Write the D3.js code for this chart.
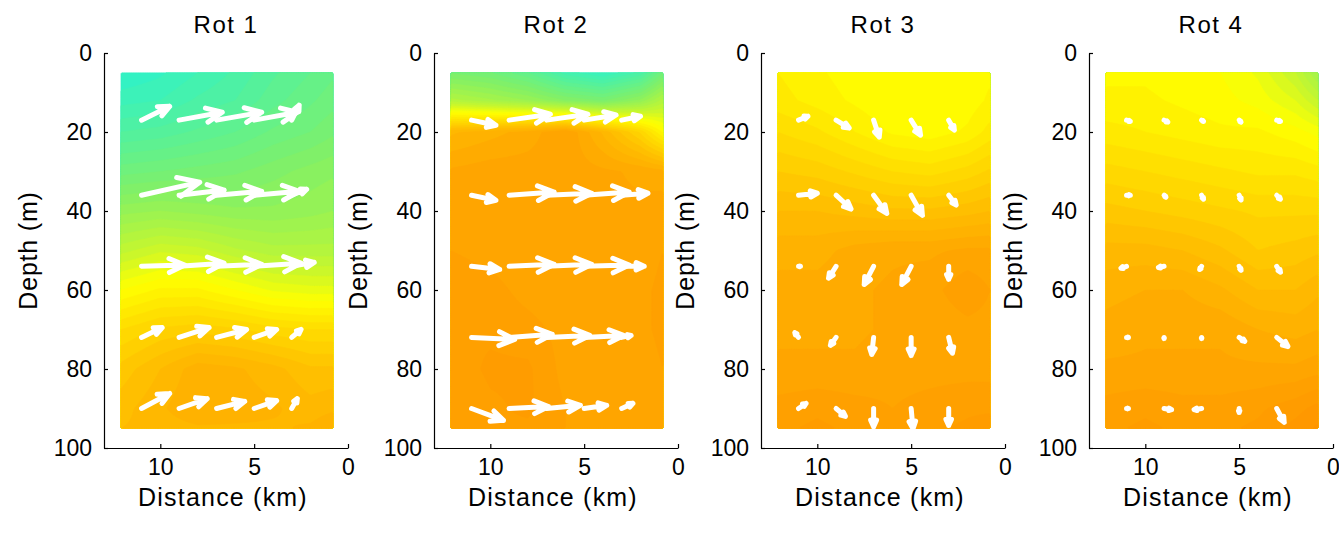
<!DOCTYPE html>
<html>
<head>
<meta charset="utf-8">
<script src="https://cdn.jsdelivr.net/npm/d3@7"></script>
<style>
  body { margin: 0; background: #fff; }
  svg text { font-family: "Liberation Sans", Arial, sans-serif; fill: #000; }
</style>
</head>
<body>
<div id="chart"></div>
<script>
// grid of the coloured field (distance in km, depth in m)
const distCols = [12.1, 10, 8, 6, 4, 2, 0.8];
const depthRows = [5, 12, 20, 30, 40, 50, 60, 70, 80, 90, 95];

// field values, 0 = cyan ... 0.5 = yellow ... 1 = deep orange
const field1 = [
  [0.00, 0.02, 0.05, 0.08, 0.12, 0.15, 0.17],
  [0.04, 0.05, 0.08, 0.10, 0.14, 0.17, 0.19],
  [0.10, 0.11, 0.13, 0.15, 0.18, 0.20, 0.22],
  [0.19, 0.20, 0.21, 0.22, 0.24, 0.26, 0.27],
  [0.29, 0.30, 0.29, 0.28, 0.28, 0.29, 0.30],
  [0.39, 0.42, 0.41, 0.38, 0.36, 0.36, 0.36],
  [0.50, 0.53, 0.53, 0.50, 0.47, 0.46, 0.46],
  [0.60, 0.63, 0.64, 0.63, 0.61, 0.60, 0.60],
  [0.66, 0.70, 0.74, 0.73, 0.71, 0.68, 0.68],
  [0.69, 0.72, 0.75, 0.74, 0.73, 0.71, 0.72],
  [0.70, 0.71, 0.72, 0.72, 0.72, 0.73, 0.75]
];
const field2 = [
  [0.22, 0.20, 0.15, 0.06, 0.02, 0.08, 0.20],
  [0.36, 0.33, 0.30, 0.25, 0.22, 0.28, 0.36],
  [0.72, 0.74, 0.76, 0.80, 0.72, 0.62, 0.52],
  [0.78, 0.79, 0.79, 0.79, 0.78, 0.77, 0.76],
  [0.79, 0.79, 0.78, 0.78, 0.78, 0.78, 0.79],
  [0.80, 0.79, 0.78, 0.78, 0.78, 0.78, 0.80],
  [0.82, 0.81, 0.79, 0.78, 0.78, 0.79, 0.81],
  [0.82, 0.82, 0.81, 0.79, 0.78, 0.79, 0.81],
  [0.81, 0.83, 0.83, 0.79, 0.78, 0.78, 0.80],
  [0.80, 0.82, 0.83, 0.80, 0.79, 0.79, 0.80],
  [0.80, 0.82, 0.82, 0.80, 0.79, 0.79, 0.80]
];
const field3 = [
  [0.55, 0.53, 0.51, 0.50, 0.50, 0.51, 0.52],
  [0.56, 0.54, 0.52, 0.50, 0.50, 0.51, 0.53],
  [0.60, 0.58, 0.55, 0.52, 0.51, 0.53, 0.56],
  [0.65, 0.64, 0.62, 0.60, 0.59, 0.61, 0.63],
  [0.70, 0.70, 0.69, 0.68, 0.68, 0.69, 0.70],
  [0.74, 0.74, 0.76, 0.77, 0.77, 0.78, 0.78],
  [0.76, 0.76, 0.77, 0.78, 0.79, 0.82, 0.80],
  [0.77, 0.77, 0.77, 0.78, 0.78, 0.79, 0.79],
  [0.78, 0.78, 0.78, 0.79, 0.79, 0.79, 0.79],
  [0.81, 0.82, 0.81, 0.80, 0.81, 0.82, 0.82],
  [0.82, 0.83, 0.82, 0.81, 0.82, 0.83, 0.84]
];
const field4 = [
  [0.52, 0.52, 0.51, 0.50, 0.47, 0.40, 0.32],
  [0.53, 0.53, 0.52, 0.51, 0.49, 0.45, 0.40],
  [0.56, 0.55, 0.54, 0.53, 0.53, 0.51, 0.49],
  [0.61, 0.60, 0.59, 0.58, 0.57, 0.57, 0.56],
  [0.66, 0.65, 0.64, 0.63, 0.62, 0.62, 0.62],
  [0.71, 0.71, 0.70, 0.68, 0.65, 0.66, 0.67],
  [0.74, 0.75, 0.75, 0.73, 0.70, 0.70, 0.72],
  [0.76, 0.77, 0.77, 0.77, 0.75, 0.74, 0.75],
  [0.78, 0.78, 0.78, 0.78, 0.78, 0.78, 0.79],
  [0.81, 0.82, 0.81, 0.81, 0.82, 0.84, 0.86],
  [0.82, 0.83, 0.82, 0.82, 0.83, 0.86, 0.88]
];

// arrow origins
const arrowDist = [11, 9, 7, 5, 3];
const arrowDepth = [17, 36, 54, 72, 90];

// arrow components: u = km toward 0 km, w = m downward (rows = depths, cols = distances)
const arrowU1 = [
  [1.5, 2.3, 2.4, 2.3, 0.4],
  [3.1, 2.4, 2.4, 2.4, 0.8],
  [2.3, 2.4, 2.4, 2.5, 1.2],
  [1.1, 1.6, 1.6, 1.2, 0.5],
  [1.5, 1.5, 1.5, 1.2, 0.3]
];
const arrowW1 = [
  [-3.5, -2.0, -2.0, -2.0, -3.8],
  [-3.3, -1.3, -1.0, -1.0, -1.5],
  [-0.3, -0.8, -0.5, -0.8, -1.0],
  [-2.5, -2.5, -2.0, -2.0, -2.0],
  [-3.8, -2.5, -1.8, -2.0, -2.5]
];
const arrowU2 = [
  [1.3, 2.2, 2.2, 1.7, 1.0],
  [1.3, 2.4, 2.4, 2.4, 1.4],
  [1.5, 2.4, 2.4, 2.4, 1.2],
  [2.3, 2.3, 2.3, 2.1, 0.5],
  [1.7, 2.1, 1.8, 1.2, 0.6]
];
const arrowW2 = [
  [1.3, -1.5, -1.5, -1.3, -1.0],
  [1.3, -0.8, -0.5, -0.8, -0.5],
  [0.8, -0.5, -0.5, -0.3, 0.0],
  [0.5, -0.8, -0.5, -0.5, -0.5],
  [3.0, -0.5, -0.8, -0.8, -1.3]
];
const arrowU3 = [
  [0.5, 0.7, 0.3, 0.5, 0.3],
  [1.0, 0.8, 0.7, 0.6, 0.4],
  [0.1, -0.4, -0.5, -0.5, 0.0],
  [-0.2, -0.3, -0.1, 0.0, 0.2],
  [0.4, 0.5, 0.0, 0.1, 0.0]
];
const arrowW3 = [
  [-1.0, 2.0, 4.3, 3.8, 2.5],
  [-0.5, 3.5, 4.6, 5.1, 2.5],
  [0.0, 3.0, 4.6, 4.6, 3.3],
  [-1.2, 2.0, 4.3, 4.6, 4.0],
  [-1.3, 2.0, 4.6, 5.1, 4.3]
];
const arrowU4 = [
  [0.2, 0.2, 0.1, 0.1, 0.2],
  [0.2, 0.1, 0.1, 0.1, 0.2],
  [-0.3, -0.3, -0.1, 0.1, 0.2],
  [0.1, 0.0, 0.0, 0.3, 0.6],
  [0.1, 0.4, -0.4, 0.0, 0.4]
];
const arrowW4 = [
  [0.3, 0.5, 0.3, 0.5, 0.3],
  [0.0, 0.5, 1.0, 1.2, 1.0],
  [0.5, 0.3, 0.8, 1.0, 1.5],
  [0.0, 0.3, 0.3, 1.0, 2.3],
  [0.0, 0.3, 0.3, 1.0, 3.5]
];

const titles = ["Rot 1", "Rot 2", "Rot 3", "Rot 4"];
const fields = [field1, field2, field3, field4];
const arrowsU = [arrowU1, arrowU2, arrowU3, arrowU4];
const arrowsW = [arrowW1, arrowW2, arrowW3, arrowW4];
const depthTicks = [0, 20, 40, 60, 80, 100];
const distTicks = [10, 5, 0];

const W = 1339, H = 540;
const panelLeft = [104, 434, 761, 1089];
const panelWidth = 244;
const plotTop = 53, plotBottom = 448;

const svg = d3.select("#chart").append("svg")
  .attr("width", W).attr("height", H);

const color = d3.scaleLinear()
  .domain([0, 0.25, 0.4, 0.5, 0.6, 0.7, 0.8, 0.9, 1])
  .range(["#2ff2c8", "#84f064", "#c4f630", "#ffff00", "#ffdc00", "#ffbb00", "#ffa200", "#ff9200", "#ff8600"])
  .clamp(true);

const y = d3.scaleLinear().domain([0, 100]).range([plotTop, plotBottom]);

// bilinear lookup in the coarse grid
function sample(grid, d, z) {
  let i = 0;
  while (i < distCols.length - 2 && d < distCols[i + 1]) i++;
  let j = 0;
  while (j < depthRows.length - 2 && z > depthRows[j + 1]) j++;
  const tx = Math.max(0, Math.min(1, (distCols[i] - d) / (distCols[i] - distCols[i + 1])));
  const ty = Math.max(0, Math.min(1, (z - depthRows[j]) / (depthRows[j + 1] - depthRows[j])));
  const a = grid[j][i] * (1 - tx) + grid[j][i + 1] * tx;
  const b = grid[j + 1][i] * (1 - tx) + grid[j + 1][i + 1] * tx;
  return a * (1 - ty) + b * ty;
}

const nx = 120, ny = 200;
const dMax = distCols[0], dMin = distCols[distCols.length - 1];
const zMin = depthRows[0], zMax = depthRows[depthRows.length - 1];
const thresholds = d3.range(0, 1, 0.025);

fields.forEach((grid, p) => {
  const x = d3.scaleLinear().domain([13, 0]).range([panelLeft[p], panelLeft[p] + panelWidth]);
  const g = svg.append("g");

  // coloured field
  const values = new Array(nx * ny);
  for (let j = 0; j < ny; j++) {
    for (let i = 0; i < nx; i++) {
      const d = dMax - (i + 0.5) / nx * (dMax - dMin);
      const z = zMin + (j + 0.5) / ny * (zMax - zMin);
      values[j * nx + i] = sample(grid, d, z);
    }
  }
  const contours = d3.contours().size([nx, ny]).thresholds(thresholds)(values);
  const proj = d3.geoTransform({
    point: function(gx, gy) {
      this.stream.point(x(dMax - gx / nx * (dMax - dMin)), y(zMin + gy / ny * (zMax - zMin)));
    }
  });
  const path = d3.geoPath(proj);
  g.append("g").selectAll("path")
    .data(contours)
    .join("path")
    .attr("d", path)
    .attr("fill", d => color(d.value + 0.0125))
    .attr("stroke", d => color(d.value + 0.0125))
    .attr("stroke-width", 0.5);

  // arrows (quiver style)
  const U = arrowsU[p], Wv = arrowsW[p];
  const arrows = [];
  arrowDepth.forEach((z, r) => {
    arrowDist.forEach((d, c) => {
      const x0 = x(d), y0 = y(z);
      const x1 = x(d - U[r][c]), y1 = y(z + Wv[r][c]);
      const u = x1 - x0, v = y1 - y0;
      const alpha = 0.36, beta = 0.45;
      const h1 = [x1 - alpha * (u + beta * v), y1 - alpha * (v - beta * u)];
      const h2 = [x1 - alpha * (u - beta * v), y1 - alpha * (v + beta * u)];
      arrows.push(`M${x0},${y0}L${x1},${y1}M${h1[0]},${h1[1]}L${x1},${y1}L${h2[0]},${h2[1]}`);
    });
  });
  g.append("g").selectAll("path")
    .data(arrows)
    .join("path")
    .attr("d", d => d)
    .attr("fill", "none")
    .attr("stroke", "#fff")
    .attr("stroke-width", 5)
    .attr("stroke-linecap", "round")
    .attr("stroke-linejoin", "round");

  // axes
  const yAxis = g.append("g")
    .attr("transform", `translate(${panelLeft[p]},0)`)
    .call(d3.axisLeft(y).tickValues(depthTicks).tickSizeInner(-4).tickSizeOuter(0).tickPadding(12));
  const xAxis = g.append("g")
    .attr("transform", `translate(0,${plotBottom})`)
    .call(d3.axisBottom(x).tickValues(distTicks).tickSizeInner(-4).tickSizeOuter(0).tickPadding(11));
  [yAxis, xAxis].forEach(a => {
    a.selectAll("text").style("font-size", "23px").attr("fill", "#000");
    a.selectAll("line, path").attr("stroke", "#000").attr("stroke-width", 1.2);
  });

  g.append("text")
    .attr("x", panelLeft[p] + panelWidth / 2)
    .attr("y", 33)
    .attr("text-anchor", "middle")
    .style("font-size", "24px")
    .style("letter-spacing", "1.5px")
    .text(titles[p]);

  g.append("text")
    .attr("x", panelLeft[p] + panelWidth / 2 - 3)
    .attr("y", 506)
    .attr("text-anchor", "middle")
    .style("font-size", "25px")
    .style("letter-spacing", "1.2px")
    .text("Distance (km)");

  g.append("text")
    .attr("transform", `translate(${panelLeft[p] - 67},${y(50)}) rotate(-90)`)
    .attr("text-anchor", "middle")
    .style("font-size", "25px")
    .style("letter-spacing", "0.8px")
    .text("Depth (m)");
});
</script>
</body>
</html>
